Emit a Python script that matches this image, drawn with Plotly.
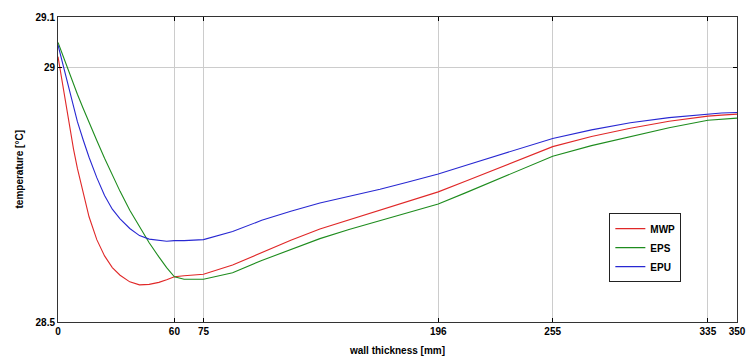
import plotly.graph_objects as go

x_mm = [0, 2, 4, 6, 8, 10, 13, 16, 20, 24, 28, 32, 37, 42, 47, 52, 56, 60, 65, 75,
        90, 105, 120, 135, 150, 166, 180, 196, 210, 225, 240, 255, 275, 295, 315, 335, 342, 350]

mwp = [29.022, 28.975, 28.928, 28.882, 28.840, 28.802, 28.752, 28.707, 28.662, 28.630, 28.607,
       28.592, 28.579, 28.573, 28.574, 28.578, 28.583, 28.589, 28.591, 28.594,
       28.612, 28.637, 28.661, 28.683, 28.701, 28.720, 28.737, 28.756, 28.777, 28.800,
       28.822, 28.845, 28.865, 28.881, 28.895, 28.905, 28.907, 28.909]

eps = [29.050, 29.029, 29.008, 28.988, 28.968, 28.948, 28.920, 28.892, 28.857, 28.822, 28.789,
       28.757, 28.720, 28.687, 28.656, 28.628, 28.607, 28.589, 28.584, 28.584,
       28.597, 28.621, 28.643, 28.664, 28.682, 28.699, 28.715, 28.732, 28.754, 28.778,
       28.802, 28.826, 28.847, 28.865, 28.882, 28.897, 28.899, 28.901]

epu = [29.045, 29.015, 28.985, 28.954, 28.923, 28.894, 28.858, 28.824, 28.784, 28.749, 28.722,
       28.703, 28.684, 28.670, 28.663, 28.660, 28.659, 28.660, 28.660, 28.662,
       28.678, 28.700, 28.718, 28.734, 28.747, 28.761, 28.775, 28.791, 28.808, 28.826,
       28.844, 28.861, 28.878, 28.892, 28.902, 28.909, 28.911, 28.912]

series_names = ["MWP", "EPS", "EPU"]
x_ticks = [0, 60, 75, 196, 255, 335, 350]
y_ticks = [28.5, 29, 29.1]
y_tick_text = ["28.5", "29", "29.1"]

colors = ["#e02828", "#1e8c1e", "#2828d2"]
font_fam = "Liberation Sans, Arial, sans-serif"

fig = go.Figure()
for name, ys, c in zip(series_names, [mwp, eps, epu], colors):
    fig.add_trace(go.Scatter(x=x_mm, y=ys, name=name, mode="lines",
                             line=dict(color=c, width=1.1)))

fig.update_layout(
    width=747, height=358,
    margin=dict(l=58, r=10, t=17, b=36, autoexpand=False),
    paper_bgcolor="white", plot_bgcolor="white",
    showlegend=True,
    legend=dict(x=0.812, y=0.357, xanchor="left", yanchor="top",
                bgcolor="white", bordercolor="#222", borderwidth=1,
                font=dict(family=font_fam, size=10, color="black", weight="bold"),
                itemwidth=30, tracegroupgap=0),
    font=dict(family=font_fam, size=10, color="black"),
)

fig.update_xaxes(
    range=[0, 350], tickmode="array", tickvals=x_ticks, automargin=False,
    ticks="inside", ticklen=4, tickcolor="black", tickwidth=1,
    showline=True, linecolor="#333", linewidth=1, mirror="ticks",
    showgrid=True, gridcolor="#cccccc", gridwidth=1, zeroline=False,
    tickfont=dict(family=font_fam, size=10, color="black", weight="bold"),
)
fig.update_yaxes(
    range=[28.5, 29.1], tickmode="array", tickvals=y_ticks, ticktext=y_tick_text,
    automargin=False,
    ticks="inside", ticklen=4, tickcolor="black", tickwidth=1,
    showline=True, linecolor="#333", linewidth=1, mirror="ticks",
    showgrid=True, gridcolor="#cccccc", gridwidth=1, zeroline=False,
    tickfont=dict(family=font_fam, size=10, color="black", weight="bold"),
)

fig.add_annotation(text="wall thickness [mm]", xref="paper", yref="paper",
                   x=0.499, y=-0.092, xanchor="center", yanchor="middle", showarrow=False,
                   font=dict(family=font_fam, size=10, color="black", weight="bold"))
fig.add_annotation(text="temperature [°C]", xref="paper", yref="paper",
                   x=-0.056, y=0.5, xanchor="center", yanchor="middle", showarrow=False,
                   textangle=-90,
                   font=dict(family=font_fam, size=10, color="black", weight="bold"))

fig.write_html("out.html")
